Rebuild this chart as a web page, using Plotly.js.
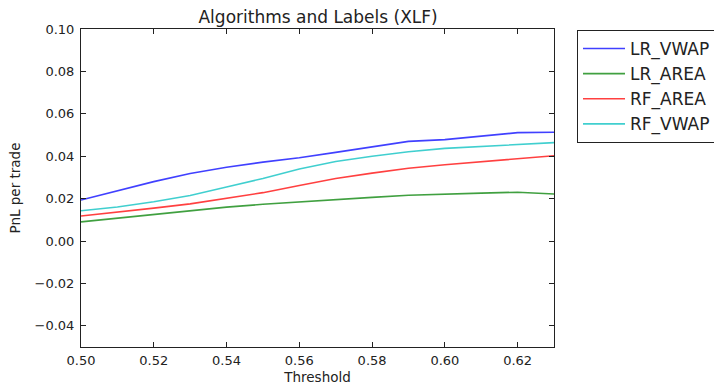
<!DOCTYPE html>
<html>
<head>
<meta charset="utf-8">
<script src="https://cdn.plot.ly/plotly-3.0.1.min.js"></script>
<style>html,body{margin:0;padding:0;background:#fff;}#chart{width:714px;height:385px;}</style>
</head>
<body>
<div id="chart"></div>
<script>
const thresholds = [0.50, 0.51, 0.52, 0.53, 0.54, 0.55, 0.56, 0.57, 0.58, 0.59, 0.60, 0.61, 0.62, 0.63];
const lrVwap  = [0.0193, 0.0235, 0.0280, 0.0318, 0.0348, 0.0372, 0.0393, 0.0418, 0.0445, 0.0470, 0.0478, 0.0495, 0.0511, 0.0513];
const lrArea  = [0.0090, 0.0108, 0.0127, 0.0145, 0.0160, 0.0173, 0.0185, 0.0195, 0.0206, 0.0216, 0.0222, 0.0226, 0.0230, 0.0222];
const rfArea  = [0.0118, 0.0135, 0.0155, 0.0175, 0.0200, 0.0228, 0.0262, 0.0295, 0.0320, 0.0343, 0.0360, 0.0374, 0.0387, 0.0402];
const rfVwap  = [0.0143, 0.0160, 0.0185, 0.0215, 0.0255, 0.0295, 0.0340, 0.0375, 0.0400, 0.0421, 0.0437, 0.0447, 0.0457, 0.0464];
const seriesNames = ["LR_VWAP", "LR_AREA", "RF_AREA", "RF_VWAP"];
const xTicks = [0.50, 0.52, 0.54, 0.56, 0.58, 0.60, 0.62];
const yTicks = [-0.04, -0.02, 0.00, 0.02, 0.04, 0.06, 0.08, 0.10];

const colors = ["rgba(0,0,255,0.75)", "rgba(0,128,0,0.75)", "rgba(255,0,0,0.75)", "rgba(0,191,191,0.75)"];
const ys = [lrVwap, lrArea, rfArea, rfVwap];
const traces = ys.map((y, i) => ({
  x: thresholds, y: y, type: "scatter", mode: "lines", name: seriesNames[i],
  line: {color: colors[i], width: 1.6}
}));

const tickFmt = v => (v < 0 ? "\u2212" : "") + Math.abs(v).toFixed(2);

const layout = {
  width: 714, height: 385,
  margin: {l: 81, r: 160, t: 29, b: 38},
  paper_bgcolor: "#fff", plot_bgcolor: "#fff",
  font: {family: "DejaVu Sans, sans-serif", size: 13, color: "#222"},
  title: {text: "Algorithms and Labels (XLF)", font: {size: 17, color: "#222"}, x: 0.4455, xanchor: "center", y: 0.956, yanchor: "middle"},
  showlegend: true,
  legend: {xref: "container", yref: "container", x: 577/714, xanchor: "left", y: 1 - 30/385, yanchor: "top",
           bordercolor: "#222", borderwidth: 1,
           font: {size: 17, color: "#222"}, bgcolor: "#fff", tracegroupgap: 0, itemwidth: 42},
  xaxis: {
    range: [0.50, 0.63], tickvals: xTicks, ticktext: xTicks.map(tickFmt),
    ticks: "inside", ticklen: 5, tickcolor: "#222", mirror: "ticks",
    showline: true, linecolor: "#222", linewidth: 1, showgrid: false, zeroline: false,
    tickfont: {size: 13}, ticklabelstandoff: 1,
    title: {text: "Threshold", font: {size: 13.5}, standoff: 6}
  },
  yaxis: {
    range: [-0.05, 0.10], tickvals: yTicks, ticktext: yTicks.map(tickFmt),
    ticks: "inside", ticklen: 5, tickcolor: "#222", mirror: "ticks",
    showline: true, linecolor: "#222", linewidth: 1, showgrid: false, zeroline: false,
    tickfont: {size: 13}, ticklabelstandoff: 3,
    title: {text: "PnL per trade", font: {size: 13.5}, standoff: 10}
  }
};
Plotly.newPlot("chart", traces, layout, {displayModeBar: false, staticPlot: true});
</script>
</body>
</html>
